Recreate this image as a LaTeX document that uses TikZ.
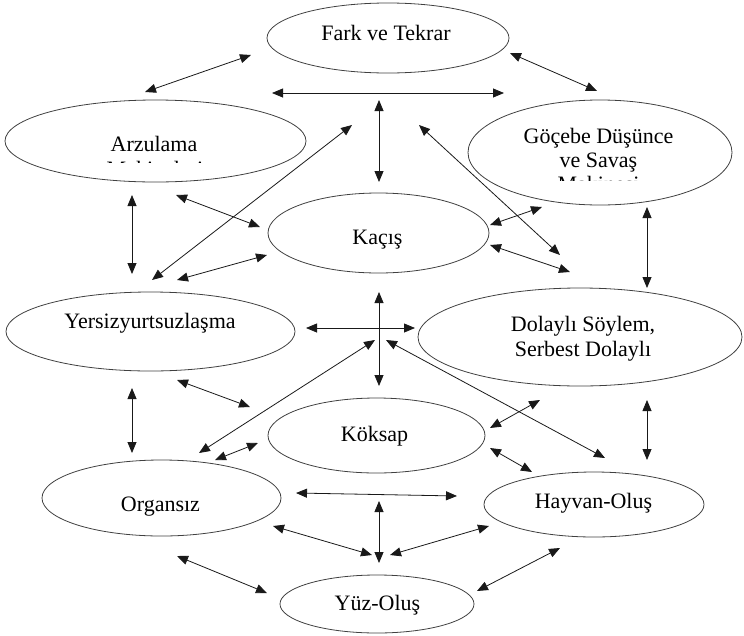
\documentclass[tikz,border=0pt]{standalone}
\usepackage{fontspec}
\setmainfont{Liberation Serif}
\usetikzlibrary{shapes.geometric}
\usetikzlibrary{arrows.meta}
\begin{document}
\begin{tikzpicture}[x=1pt,y=-1pt,
kavram/.style={ellipse,draw=black!75,line width=.8pt,inner sep=0pt},
yazi/.style={anchor=base,inner sep=0pt,font=\fontsize{22}{24.5}\selectfont},
ok/.style={{Triangle[length=11pt,width=9pt]}-{Triangle[length=11pt,width=9pt]},line width=.8pt,draw=black!90}]
\useasboundingbox (0,0) rectangle (744,635);
\node[kavram,minimum width=242pt,minimum height=70pt] (fark) at (388,38) {};
\node[kavram,minimum width=301pt,minimum height=82pt] (arzu) at (155.5,141) {};
\node[kavram,minimum width=264pt,minimum height=105pt] (gocebe) at (600,152.5) {};
\node[kavram,minimum width=221pt,minimum height=80pt] (kacis) at (378.5,233) {};
\node[kavram,minimum width=289pt,minimum height=79pt] (yersiz) at (150.5,331.5) {};
\node[kavram,minimum width=324pt,minimum height=98pt] (dolayli) at (580,337) {};
\node[kavram,minimum width=217pt,minimum height=75pt] (koksap) at (376.5,435.5) {};
\node[kavram,minimum width=239pt,minimum height=76pt] (organsiz) at (161.5,498) {};
\node[kavram,minimum width=220pt,minimum height=65pt] (hayvan) at (594,504.5) {};
\node[kavram,minimum width=194pt,minimum height=58pt] (yuz) at (377,604) {};
\node[yazi] (farkyazi) at (386,40) {Fark ve Tekrar};
\node[yazi] (arzuyazi) at (154,151) {Arzulama};
\begin{scope}
\clip (0,150) rectangle (320,162.5);
\node[yazi] (arzuyazi2) at (155,176) {Makineleri};
\end{scope}
\node[yazi] (gocebeyazi) at (598.5,143) {Göçebe Düşünce};
\node[yazi] (gocebeyazi2) at (598.5,167) {ve Savaş};
\begin{scope}
\clip (460,171) rectangle (740,180);
\node[yazi] (gocebeyazi3) at (598.5,191) {Makinesi};
\end{scope}
\node[yazi] (kacisyazi) at (377.5,244) {Kaçış};
\node[yazi] (yersizyazi) at (150,328) {Yersizyurtsuzlaşma};
\node[yazi] (dolayliyazi) at (583,331) {Dolaylı Söylem,};
\node[yazi] (dolayliyazi2) at (583,356) {Serbest Dolaylı};
\node[yazi] (koksapyazi) at (374.5,441) {Köksap};
\node[yazi] (organsizyazi) at (160.5,511) {Organsız};
\node[yazi] (hayvanyazi) at (593.5,508) {Hayvan-Oluş};
\node[yazi] (yuzyazi) at (377.5,610) {Yüz-Oluş};
\coordinate (fa1) at (251,55); \coordinate (fa2) at (145,92); \draw[ok] (fa1)--(fa2);
\coordinate (fg1) at (510,53); \coordinate (fg2) at (597,91); \draw[ok] (fg1)--(fg2);
\coordinate (ust1) at (272,93); \coordinate (ust2) at (504,93); \draw[ok] (ust1)--(ust2);
\coordinate (dik1) at (379,100); \coordinate (dik2) at (379,182); \draw[ok] (dik1)--(dik2);
\coordinate (cap1) at (352,125); \coordinate (cap2) at (152,280); \draw[ok] (cap1)--(cap2);
\coordinate (cap3) at (419,125); \coordinate (cap4) at (560,255); \draw[ok] (cap3)--(cap4);
\coordinate (ay1) at (132,195); \coordinate (ay2) at (132,274); \draw[ok] (ay1)--(ay2);
\coordinate (ak1) at (176,195); \coordinate (ak2) at (260,227); \draw[ok] (ak1)--(ak2);
\coordinate (yk1) at (177,280); \coordinate (yk2) at (267,255); \draw[ok] (yk1)--(yk2);
\coordinate (gk1) at (542,207); \coordinate (gk2) at (490,225); \draw[ok] (gk1)--(gk2);
\coordinate (kd1) at (490,245); \coordinate (kd2) at (570,272); \draw[ok] (kd1)--(kd2);
\coordinate (gd1) at (647,207); \coordinate (gd2) at (647,288); \draw[ok] (gd1)--(gd2);
\coordinate (dik3) at (379,292); \coordinate (dik4) at (379,386); \draw[ok] (dik3)--(dik4);
\coordinate (yd1) at (306,328); \coordinate (yd2) at (415,328); \draw[ok] (yd1)--(yd2);
\coordinate (cap5) at (375,340); \coordinate (cap6) at (199,453); \draw[ok] (cap5)--(cap6);
\coordinate (cap7) at (386,340); \coordinate (cap8) at (605,458); \draw[ok] (cap7)--(cap8);
\coordinate (yks1) at (177,380); \coordinate (yks2) at (250,407); \draw[ok] (yks1)--(yks2);
\coordinate (yo1) at (132,388); \coordinate (yo2) at (132,453); \draw[ok] (yo1)--(yo2);
\coordinate (oks1) at (215,460); \coordinate (oks2) at (258,443); \draw[ok] (oks1)--(oks2);
\coordinate (dks1) at (540,400); \coordinate (dks2) at (490,428); \draw[ok] (dks1)--(dks2);
\coordinate (ksh1) at (490,448); \coordinate (ksh2) at (532,472); \draw[ok] (ksh1)--(ksh2);
\coordinate (dh1) at (647,400); \coordinate (dh2) at (647,460); \draw[ok] (dh1)--(dh2);
\coordinate (oh1) at (296,493); \coordinate (oh2) at (457,496); \draw[ok] (oh1)--(oh2);
\coordinate (dik5) at (379,501); \coordinate (dik6) at (379,563); \draw[ok] (dik5)--(dik6);
\coordinate (oa1) at (273,526); \coordinate (oa2) at (372,555); \draw[ok] (oa1)--(oa2);
\coordinate (ha1) at (489,526); \coordinate (ha2) at (390,555); \draw[ok] (ha1)--(ha2);
\coordinate (oy1) at (177,556); \coordinate (oy2) at (267,593); \draw[ok] (oy1)--(oy2);
\coordinate (hy1) at (560,548); \coordinate (hy2) at (477,591); \draw[ok] (hy1)--(hy2);
\end{tikzpicture}
\end{document}
